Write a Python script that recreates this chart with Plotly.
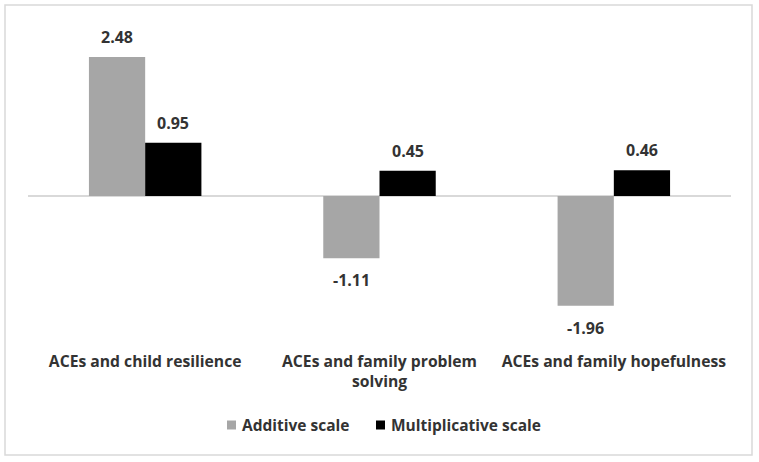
import plotly.graph_objects as go

categories = ["ACEs and child resilience", "ACEs and family problem<br>solving", "ACEs and family hopefulness"]
additive = [2.48, -1.11, -1.96]
multiplicative = [0.95, 0.45, 0.46]
series_names = ["Additive scale", "Multiplicative scale"]
colors = ["#A6A6A6", "#000000"]

W, H = 759, 462
L, R, T, B = 28, 28, 28, 126
pw, ph = W - L - R, H - T - B

FONT = "Open Sans"
TXT = "#333333"


def px_x(p):
    return (p - L) / pw


def px_y(p):
    return (T + ph - p) / ph


fig = go.Figure()
for name, vals, col in zip(series_names, [additive, multiplicative], colors):
    fig.add_trace(go.Bar(
        x=categories, y=vals, name=name, marker=dict(color=col, line=dict(width=0)),
        showlegend=False,
    ))

# value labels
bar_px = pw / len(categories) * (1 - 0.52) / 2
for k, vals in enumerate([additive, multiplicative]):
    xs = -bar_px / 2 if k == 0 else bar_px / 2
    for c, v in zip(categories, vals):
        fig.add_annotation(x=c, y=v, xref="x", yref="y", text=f"{v:.2f}", showarrow=False,
                           xshift=xs, yshift=20 if v >= 0 else -22, yanchor="middle",
                           font=dict(family=FONT, size=16, color=TXT, weight="bold"))

# legend (drawn manually to match compact Excel style)
legend_sq_left = [227, 376]
for name, col, x0 in zip(series_names, colors, legend_sq_left):
    fig.add_shape(type="rect", xref="paper", yref="paper",
                  x0=px_x(x0), x1=px_x(x0 + 9), y0=px_y(429.5), y1=px_y(420.5),
                  line=dict(width=0), fillcolor=col)
    fig.add_annotation(xref="paper", yref="paper", x=px_x(x0 + 13), y=px_y(425),
                       xanchor="left", yanchor="middle", showarrow=False, text=name,
                       font=dict(family=FONT, size=15.5, color=TXT, weight="bold"))

fig.update_layout(
    width=W, height=H, margin=dict(l=L, r=R, t=T, b=B),
    paper_bgcolor="white", plot_bgcolor="white",
    barmode="group", bargap=0.52, bargroupgap=0,
    font=dict(family=FONT, size=15, color=TXT),
    showlegend=False,
    xaxis=dict(showgrid=False, showline=False, ticks="", zeroline=False,
               tickfont=dict(family=FONT, size=15.7, color=TXT, weight="bold"), ticklabelstandoff=14),
    yaxis=dict(range=[-2.5, 3.0], showgrid=False, showticklabels=False, ticks="",
               zeroline=True, zerolinecolor="#D9D9D9", zerolinewidth=1.5, showline=False),
)

fig.add_shape(type="rect", xref="paper", yref="paper",
              x0=px_x(5), x1=px_x(752), y0=px_y(455), y1=px_y(5),
              line=dict(color="#D9D9D9", width=1.5), fillcolor="rgba(0,0,0,0)", layer="below")

fig.write_html("out.html", config={"displayModeBar": False},
               post_script="document.body.style.margin='0';")
